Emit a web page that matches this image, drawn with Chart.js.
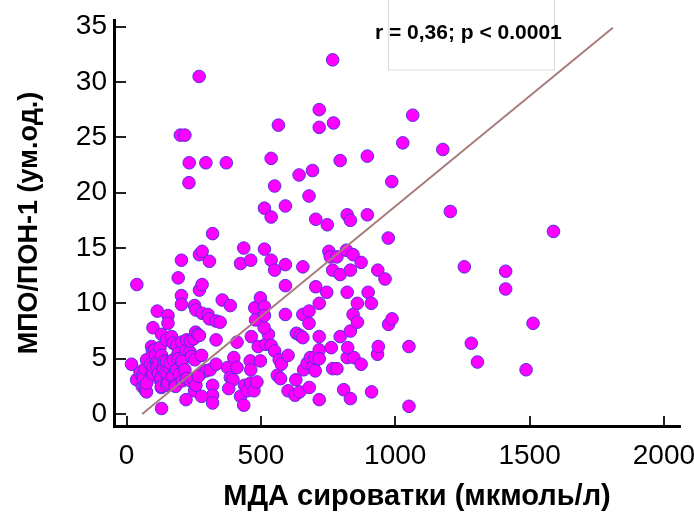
<!DOCTYPE html>
<html>
<head>
<meta charset="utf-8">
<script src="https://cdn.jsdelivr.net/npm/chart.js"></script>
<style>
  body { margin: 0; background: #fff; }
</style>
</head>
<body>
<canvas id="myChart" width="694" height="515"></canvas>
<script>
// [МДА, МПО/ПОН-1] pairs
const lowCluster = [
  [18,4.5],[37,3.1],[50,3.8],[58,2.5],[58,3.4],[62,3.2],[68,4.1],[68,2.5],[71,2.1],[74,4.9],
  [74,2.0],[75,2.8],[88,4.5],[93,3.7],[93,6.1],[96,5.7],[98,7.8],[98,3.6],[99,4.3],[105,5.8],
  [108,5.3],[112,4.7],[113,4.3],[118,3.7],[121,4.6],[124,6.0],[124,3.1],[129,3.3],[129,2.4],[130,7.2],
  [130,5.3],[130,2.5],[130,0.5],[136,4.3],[137,4.0],[141,4.8],[143,3.7],[149,6.7],[149,4.7],[149,2.6],
  [151,3.6],[154,2.8],[161,4.1],[162,4.6],[167,7.0],[167,3.4],[173,6.4],[174,4.9],[174,3.4],[180,2.6],
  [182,2.5],[186,6.2],[186,4.0],[192,5.5],[192,5.0],[197,3.6],[205,6.5],[205,4.7],[207,4.8],[207,3.0],
  [217,4.0],[221,5.8],[221,1.3],[223,6.7],[223,3.2],[236,5.6],[237,6.6],[237,3.0],[242,5.2],[248,3.2],
  [250,6.8],[253,2.1],[254,4.9],[257,7.4],[258,2.6],[265,7.2],[267,3.4],[271,7.1],[279,5.3],[279,1.6]
];
const midPoints = [
  [283,3.8],[296,3.9],[311,4.0],[320,2.6],[320,1.7],[320,1.0],[333,4.5],[333,6.7],[376,4.2],[386,3.3],
  [396,3.1],[380,2.3],[399,5.1],[411,6.5],[411,4.2],[424,1.6],[436,0.8],[439,2.6],[449,2.1],[460,4.8],
  [462,4.0],[462,2.8],[464,7.0],[474,2.1],[485,2.9],[490,6.1],[498,4.8],[518,6.3],[528,7.2],[538,6.2],
  [551,5.7],[561,3.5],[568,4.9],[573,3.2],[576,4.5],[601,5.3],[601,2.1],[627,1.7],[630,3.1],[632,7.3],
  [644,2.0],[646,7.1],[656,6.9],[659,4.0],[672,4.6],[680,2.4],[684,5.1],[695,4.3],[701,5.1],[702,3.9],
  [717,7.0],[717,5.8],[717,5.0],[717,1.3],[762,6.0],[767,4.1],[783,4.1],[795,7.0],[808,2.2],[821,5.1],
  [823,6.0],[833,7.5],[833,1.4],[846,5.1],[873,4.5],[912,2.0],[934,5.4],[937,6.1],[1051,6.1],[1051,0.7],
  [1283,6.4],[1306,4.7],[1487,4.0],
  [38,11.7],[114,9.3],[154,8.9],[154,8.2],[192,12.3],[204,10.7],[204,9.9],[204,13.9],[253,9.8],[258,9.4],
  [271,11.2],[281,11.7],[281,9.1],[303,9.0],[308,8.6],[333,8.4],[348,8.3],[356,10.3],[386,9.8],[271,14.4],
  [281,14.7],[308,13.8],[320,16.3],[424,13.6],[436,15.0],[462,13.9],[477,9.6],[480,8.5],[498,10.5],[512,7.8],
  [513,9.7],[513,8.9],[513,14.9],[538,13.9],[551,13.0],[591,13.5],[591,11.6],[591,9.0],[656,13.3],[656,9.0],
  [679,9.3],[679,8.2],[704,11.5],[717,10.0],[745,11.0],[753,14.7],[758,14.2],[767,13.0],[783,14.2],[795,12.6],
  [818,14.8],[821,11.0],[833,13.0],[843,14.4],[843,9.0],[859,10.0],[859,8.3],[873,13.7],[899,11.0],[911,10.0],
  [935,13.0],[962,12.2],[974,15.9],[975,8.1],[988,8.6],[1257,13.3],[1411,12.9],[1411,11.3],[1513,8.2],[1589,16.5]
];
const highPoints = [
  [767,32.0],[270,30.5],[717,27.5],[717,25.9],[770,26.3],[1065,27.0],[565,26.1],[200,25.2],[217,25.2],[1028,24.5],
  [1177,23.9],[538,23.1],[896,23.3],[795,22.9],[233,22.7],[295,22.7],[371,22.7],[692,22.0],[642,21.6],[232,20.9],
  [551,20.6],[987,21.0],[679,19.7],[1205,18.3],[513,18.6],[591,18.8],[538,17.8],[704,17.6],[747,17.1],[821,18.0],
  [833,17.5],[896,18.0]
];
const fitLine = [[58, 0], [1810, 34.9]];

const xTicks = [0, 500, 1000, 1500, 2000];
const yTicks = [0, 5, 10, 15, 20, 25, 30, 35];
const xTitle = 'МДА сироватки (мкмоль/л)';
const yTitle = 'МПО/ПОН-1 (ум.од.)';
const statsText = 'r = 0,36; p < 0.0001';

const FONT = '"Liberation Sans", Arial, sans-serif';
const TICK_FONT = '"Liberation Sans Narrow", "Arial Narrow", "Liberation Sans", sans-serif';
const toXY = pts => pts.map(p => ({ x: p[0], y: p[1] }));

const pointStyle = {
  backgroundColor: '#ff00ff',
  borderColor: '#5530e0',
  borderWidth: 1,
  pointRadius: 6.3,
  order: 1
};

// x title and the r/p box
const extras = {
  id: 'extras',
  afterDraw(chart) {
    const c = chart.ctx;
    c.save();
    c.fillStyle = '#000';
    c.font = 'bold 29px ' + FONT;
    c.textAlign = 'center';
    c.textBaseline = 'middle';
    c.fillText(xTitle, 417, 497);

    c.strokeStyle = '#d9d9d9';
    c.lineWidth = 1;
    c.strokeRect(388.5, -1, 166, 71);
    c.font = 'bold 21px ' + FONT;
    c.textAlign = 'left';
    c.fillText(statsText, 375, 33);
    c.restore();
  }
};

// tick marks point into the plot: negative tick length
const innerGrid = len => ({
  display: true,
  drawOnChartArea: false,
  drawTicks: true,
  tickLength: -len,
  color: '#222',
  lineWidth: 2
});

const ctx = document.getElementById('myChart').getContext('2d');
const myChart = new Chart(ctx, {
  type: 'scatter',
  data: {
    datasets: [
      {
        data: toXY(fitLine),
        showLine: true,
        borderColor: '#a97b7b',
        borderWidth: 2,
        pointRadius: 0,
        order: 0
      },
      { data: toXY(lowCluster), ...pointStyle },
      { data: toXY(midPoints), ...pointStyle },
      { data: toXY(highPoints), ...pointStyle }
    ]
  },
  options: {
    responsive: false,
    animation: false,
    devicePixelRatio: 1,
    layout: { padding: { top: 20, right: 14, left: 0, bottom: 0 } },
    plugins: {
      legend: { display: false },
      tooltip: { enabled: false }
    },
    scales: {
      x: {
        type: 'linear',
        min: -47,
        max: 2060,
        afterBuildTicks: s => { s.ticks = xTicks.map(v => ({ value: v })); },
        afterFit: s => { s.height = 89; s.paddingLeft = 0; s.paddingRight = 0; },
        grid: innerGrid(10),
        border: { display: true, color: '#000', width: 3 },
        ticks: {
          padding: 23,
          color: '#000',
          font: { family: TICK_FONT, size: 28 },
          callback: v => String(v)
        }
      },
      y: {
        type: 'linear',
        min: -1.08,
        max: 35.6,
        afterBuildTicks: s => { s.ticks = yTicks.map(v => ({ value: v })); },
        afterFit: s => { s.width = 114; s.paddingTop = 0; s.paddingBottom = 0; },
        grid: innerGrid(12),
        border: { display: true, color: '#000', width: 3 },
        ticks: {
          padding: 19,
          color: '#000',
          font: { family: TICK_FONT, size: 28 },
          callback: v => String(v)
        },
        title: {
          display: true,
          text: yTitle,
          color: '#000',
          font: { family: FONT, size: 27, weight: 'bold' },
          padding: { top: 13, bottom: 0 }
        }
      }
    }
  },
  plugins: [extras]
});
</script>
</body>
</html>
